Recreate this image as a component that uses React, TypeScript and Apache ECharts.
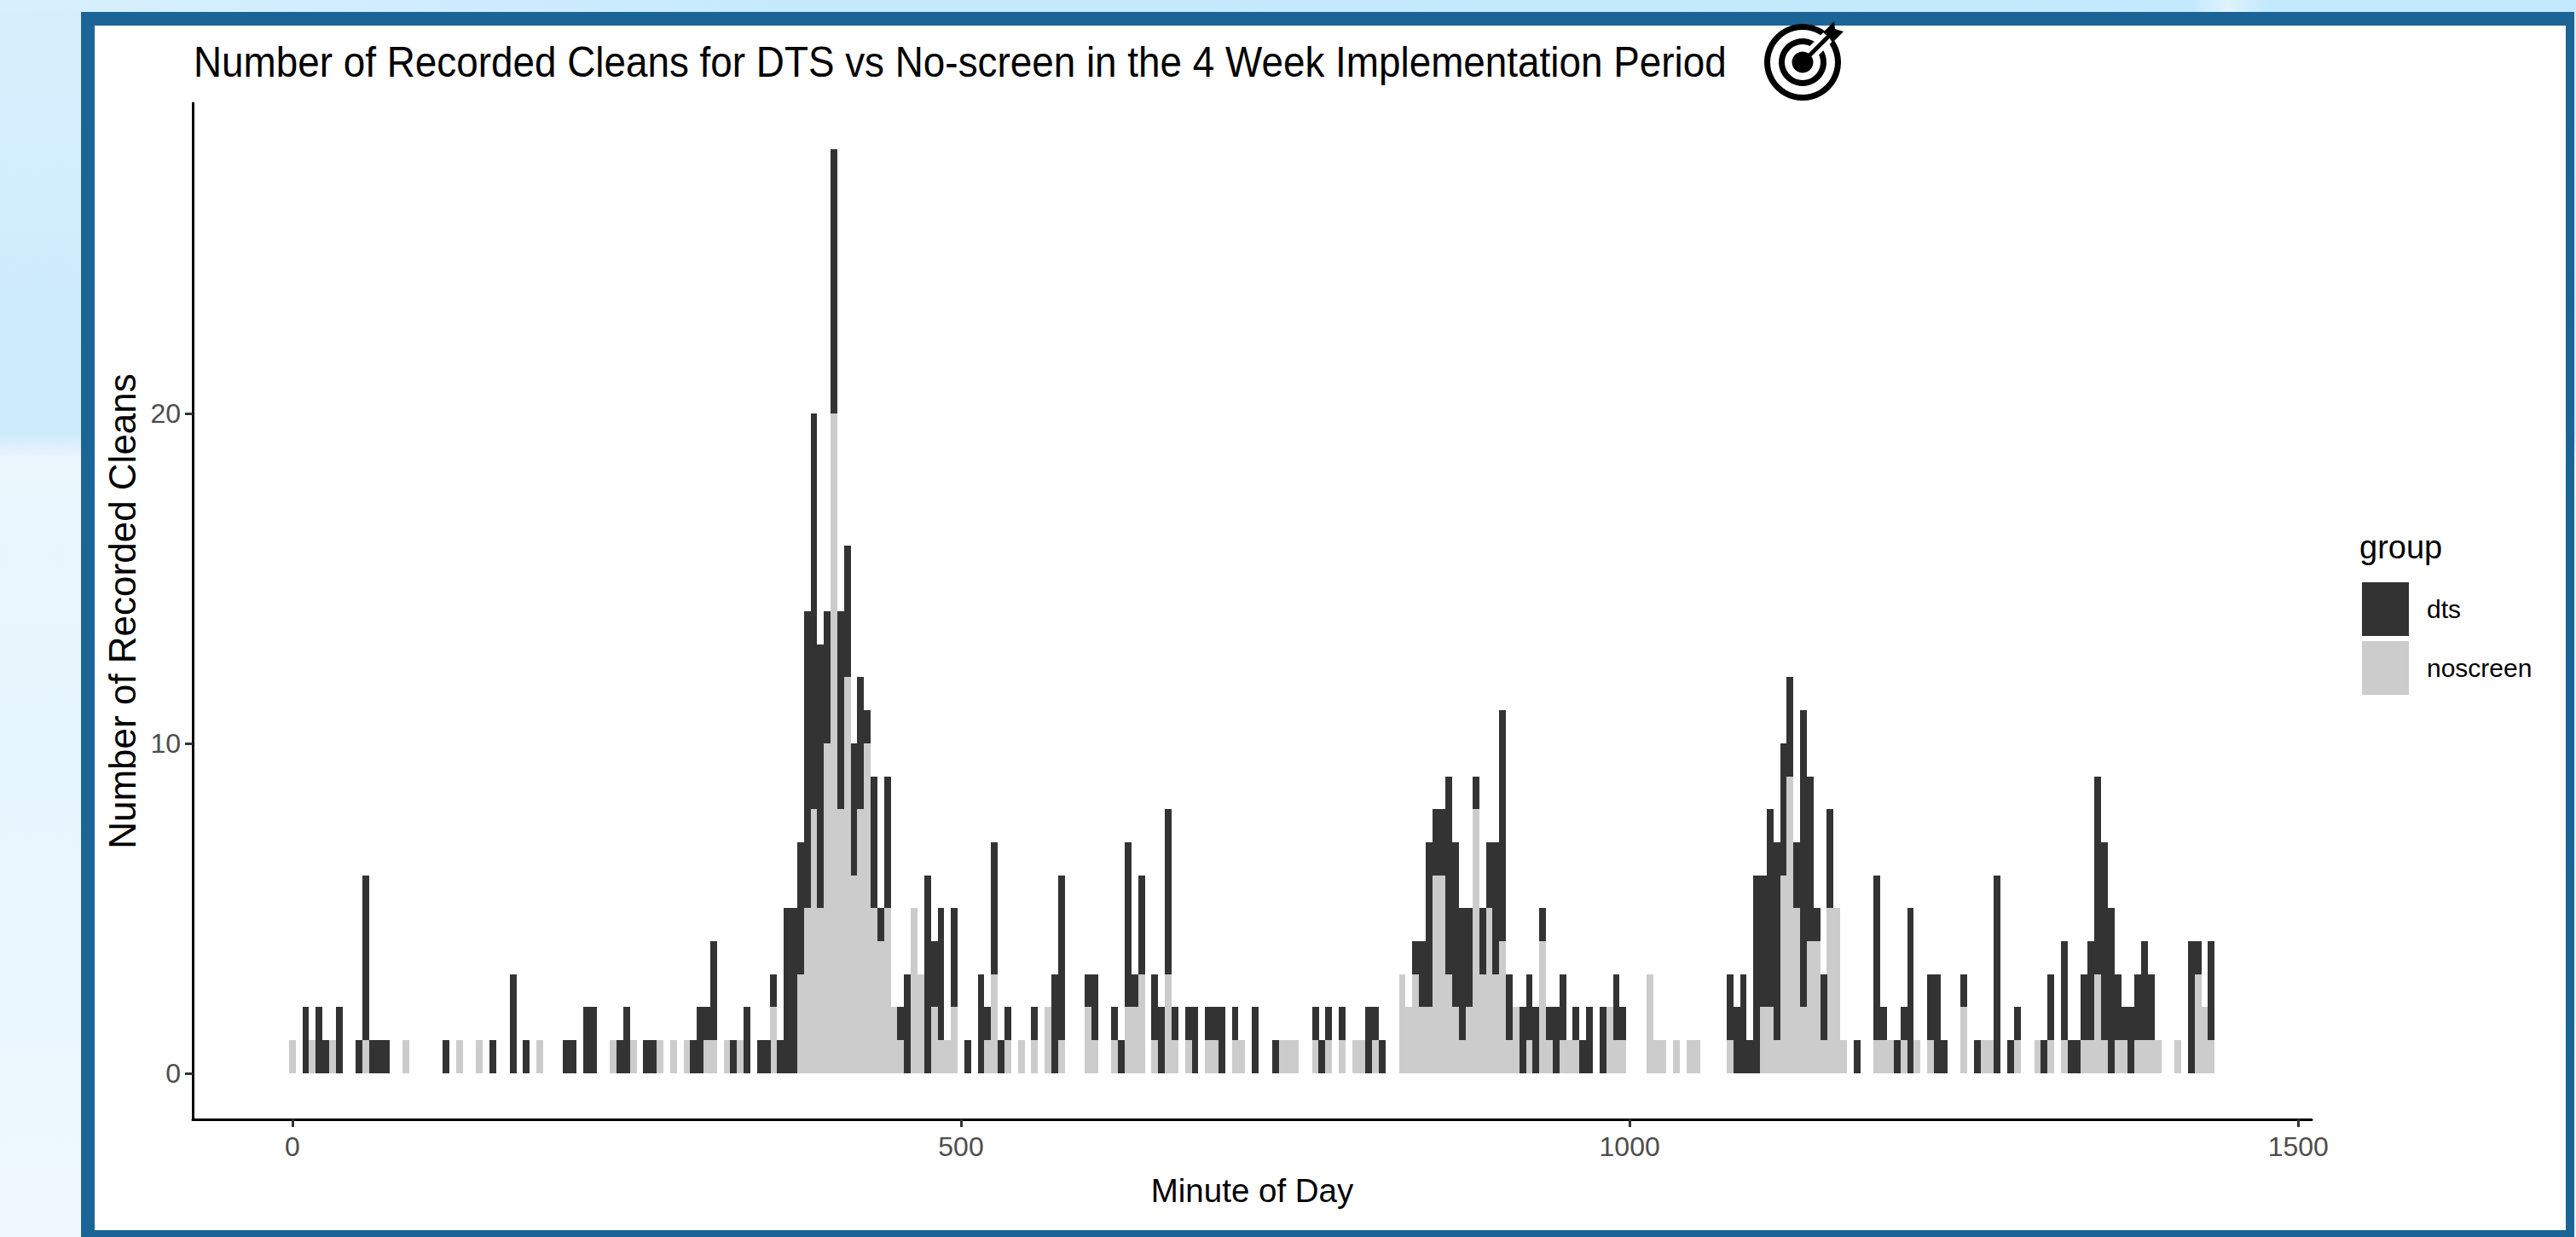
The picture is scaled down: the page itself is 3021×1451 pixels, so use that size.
import React, { useEffect, useRef } from "react";
import * as echarts from "echarts";

const binMinutes = 5;
const noscreenCounts = [
  1,0,0,1,0,0,1,0,0,0,0,1,0,0,0,0,0,1,0,0,
  0,0,0,0,0,1,0,0,1,0,0,0,0,0,0,0,0,1,0,0,
  0,0,0,0,0,0,0,0,1,0,0,1,0,0,0,1,0,1,0,1,
  0,0,1,1,0,1,0,1,0,0,0,0,2,0,0,0,3,5,8,5,
  10,20,8,12,6,8,10,5,4,5,2,1,0,5,3,0,2,1,1,2,
  0,0,0,0,1,3,0,1,0,1,0,1,0,2,0,1,0,0,0,2,
  1,0,0,1,0,2,2,3,0,1,0,3,1,0,1,0,0,1,1,0,
  0,1,1,0,0,0,0,0,1,1,1,0,0,1,0,1,0,1,0,1,
  1,0,1,0,0,0,3,2,3,2,2,6,6,3,2,1,2,8,3,5,
  3,4,1,2,0,1,0,4,1,0,1,1,1,0,0,0,0,2,1,1,
  0,0,0,3,1,1,0,1,0,1,1,0,0,0,0,1,0,0,0,0,
  2,2,1,6,9,5,2,4,4,1,5,5,1,0,0,0,0,1,1,1,
  0,1,0,1,0,1,0,0,0,0,2,0,0,1,1,0,0,0,1,0,
  0,1,0,1,0,1,0,0,1,1,3,1,0,1,1,0,1,1,1,1,
  0,0,1,0,0,3,2,1,
];
const dtsCounts = [
  0,0,2,0,2,1,0,2,0,0,1,5,1,1,1,0,0,0,0,0,
  0,0,0,1,0,0,0,0,0,0,1,0,0,3,0,1,0,0,0,0,
  0,1,1,0,2,2,0,0,0,1,2,0,0,1,1,0,0,0,0,0,
  1,2,1,3,0,0,1,0,2,0,1,1,1,1,5,5,4,9,12,8,
  4,8,6,4,4,4,1,4,1,4,0,1,3,0,0,6,2,4,0,3,
  0,1,0,3,1,4,1,1,0,0,0,1,0,0,3,5,0,0,0,1,
  2,0,0,1,1,5,1,3,0,2,2,5,1,0,1,2,0,1,1,2,
  0,1,0,0,2,0,0,1,0,0,0,0,0,1,1,1,0,1,0,0,
  0,2,1,1,0,0,0,0,1,2,5,2,2,6,5,4,3,1,2,2,
  4,7,2,0,2,2,2,1,1,2,2,0,1,1,2,0,2,0,2,1,
  0,0,0,0,0,0,0,0,0,0,0,0,0,0,0,2,2,3,1,6,
  4,6,6,4,3,2,9,5,1,2,3,0,0,0,1,0,0,5,1,0,
  1,1,5,0,0,2,3,1,0,0,1,0,1,0,0,6,0,1,1,0,
  0,0,1,2,0,3,1,1,2,3,6,6,5,2,1,2,2,3,2,0,
  0,0,0,0,4,1,0,3,
];
const xTicks = [0, 500, 1000, 1500];
const yTicks = [0, 10, 20];
const seriesNames = ["dts", "noscreen"];
const title = "Number of Recorded Cleans for DTS vs No-screen in the 4 Week Implementation Period";
const xLabel = "Minute of Day";
const yLabel = "Number of Recorded Cleans";
const legendTitle = "group";

const W = 3021;
const H = 1451;

export default function App() {
  const ref = useRef<HTMLDivElement>(null);
  useEffect(() => {
    document.body.style.margin = "0";
    const chart = echarts.init(ref.current!, undefined, { renderer: "svg" });
    // value first, so that the stack adds up the counts rather than the minutes
    const pairs = (a: number[]) => a.map((v, i) => [v, i * binMinutes]);
    const font = "Liberation Sans";
    const barWidth = 7.9;
    chart.setOption({
      animation: false,
      textStyle: { fontFamily: font },
      grid: { left: 226, top: 121, width: 2485, height: 1192, containLabel: false },
      xAxis: {
        type: "value",
        min: -74.5,
        max: 1510,
        splitLine: { show: false },
        customValues: xTicks,
        axisLine: { show: true, onZero: false, lineStyle: { color: "#000", width: 3 } },
        axisTick: { show: true, customValues: xTicks, length: 9, lineStyle: { color: "#333", width: 3 } },
        axisLabel: {
          show: true,
          customValues: xTicks,
          color: "#4D4D4D",
          fontSize: 32,
          margin: 16,
          fontFamily: font,
          formatter: (v: number) => String(v),
        },
        name: xLabel,
        nameLocation: "middle",
        nameGap: 64,
        nameTextStyle: { color: "#000", fontSize: 38.5, fontFamily: font },
      },
      yAxis: {
        type: "value",
        min: -1.4,
        max: 29.4,
        splitLine: { show: false },
        customValues: yTicks,
        axisLine: { show: true, onZero: false, lineStyle: { color: "#000", width: 3 } },
        axisTick: { show: true, customValues: yTicks, length: 9, lineStyle: { color: "#333", width: 3 } },
        axisLabel: { show: true, customValues: yTicks, color: "#4D4D4D", fontSize: 32, margin: 14, fontFamily: font },
        name: yLabel,
        nameLocation: "middle",
        nameGap: 60,
        nameTextStyle: { color: "#000", fontSize: 44, fontFamily: font },
      },
      legend: {
        left: 2765,
        top: 678,
        orient: "vertical",
        itemWidth: 55,
        itemHeight: 63,
        itemGap: 6,
        icon: "rect",
        data: seriesNames,
        textStyle: { fontSize: 30, color: "#000", fontFamily: font, padding: [2, 0, 0, 16] },
      },
      series: [
        {
          name: seriesNames[1],
          type: "bar",
          stack: "all",
          encode: { x: 1, y: 0 },
          data: pairs(noscreenCounts),
          barWidth,
          itemStyle: { color: "#CCCCCC" },
          z: 2,
        },
        {
          name: seriesNames[0],
          type: "bar",
          stack: "all",
          encode: { x: 1, y: 0 },
          data: pairs(dtsCounts),
          barWidth,
          itemStyle: { color: "#333333" },
          z: 3,
        },
      ],
      graphic: [
        { type: "rect", silent: true, z: -11, shape: { x: 95, y: 14, width: 2924, height: 1440 }, style: { fill: "#1B6496" } },
        { type: "rect", silent: true, z: -10, shape: { x: 111, y: 30, width: 2898, height: 1413 }, style: { fill: "#fff" } },
        {
          type: "text",
          x: 227,
          y: 73,
          scaleX: 0.917,
          style: { text: title, fontSize: 50, fill: "#000", fontFamily: font, textVerticalAlign: "middle" },
        },
        {
          type: "text",
          x: 2767,
          y: 642,
          style: { text: legendTitle, fontSize: 38, fill: "#000", fontFamily: font, textVerticalAlign: "middle" },
        },
        { type: "ring", shape: { cx: 2114, cy: 73, r: 45, r0: 38 }, style: { fill: "#000" }, z: 20 },
        { type: "ring", shape: { cx: 2114, cy: 73, r: 28, r0: 21 }, style: { fill: "#000" }, z: 20 },
        { type: "line", shape: { x1: 2122, y1: 65, x2: 2146, y2: 41 }, style: { stroke: "#fff", lineWidth: 15 }, z: 21 },
        { type: "line", shape: { x1: 2114, y1: 73, x2: 2148, y2: 39 }, style: { stroke: "#000", lineWidth: 5 }, z: 22 },
        { type: "circle", shape: { cx: 2114, cy: 73, r: 12.5 }, style: { fill: "#000" }, z: 23 },
        {
          type: "polygon",
          shape: { points: [[2138, 38], [2151, 25], [2152, 34], [2162, 37], [2149, 50], [2145, 44]] },
          style: { fill: "#000" },
          z: 22,
        },
      ],
    });
    return () => chart.dispose();
  }, []);
  return (
    <div
      style={{
        position: "relative",
        width: W,
        height: H,
        overflow: "hidden",
        backgroundImage:
          "linear-gradient(90deg,#d8f0fd 0%,#c6eafd 30%,#c2e9fd 85%,#dff3fd 86.5%,#c2e9fd 88%,#c2e9fd 100%),linear-gradient(180deg,#d6effd 0%,#cdebfb 35%,#eaf6fc 37%,#e6f6fe 60%,#eff8fe 100%)",
        backgroundSize: "100% 14px,100% 100%",
        backgroundRepeat: "no-repeat",
      }}
    >
      <style>{`path[fill="#333333"],path[fill="#CCCCCC"],path[fill="#333"],path[fill="#ccc"]{shape-rendering:crispEdges}`}</style>
      <div ref={ref} style={{ width: W, height: H }} />
    </div>
  );
}
